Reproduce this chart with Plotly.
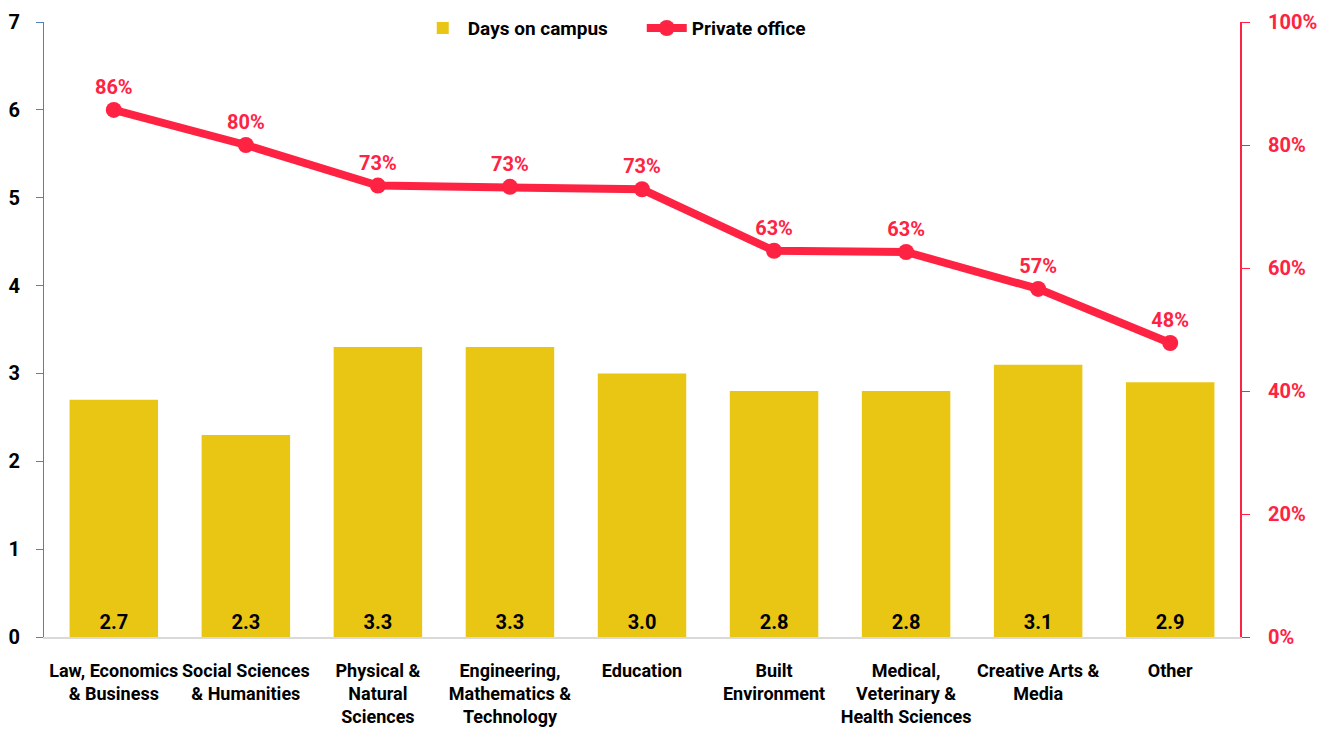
import plotly.graph_objects as go

categories = ["Law, Economics<br>& Business", "Social Sciences<br>& Humanities", "Physical &<br>Natural<br>Sciences",
              "Engineering,<br>Mathematics &<br>Technology", "Education", "Built<br>Environment",
              "Medical,<br>Veterinary &<br>Health Sciences", "Creative Arts &<br>Media", "Other"]
days_on_campus = [2.7, 2.3, 3.3, 3.3, 3.0, 2.8, 2.8, 3.1, 2.9]
private_office = [0.857, 0.80, 0.734, 0.732, 0.728, 0.628, 0.626, 0.566, 0.478]

FONT = "Roboto, Liberation Sans, sans-serif"
RED = "#FF2343"
GOLD = "#EAC614"

fig = go.Figure()
fig.add_trace(go.Bar(
    x=categories, y=days_on_campus, name="Days on campus",
    marker=dict(color=GOLD, line=dict(width=0)),
    width=0.67,
    text=[f"{v:.1f}" for v in days_on_campus], textposition="inside",
    insidetextanchor="start",
    textfont=dict(family=FONT, size=20, color="black", weight="bold"),
    cliponaxis=False,
))
fig.add_trace(go.Scatter(
    x=categories, y=private_office, name="Private office", yaxis="y2",
    mode="lines+markers+text",
    line=dict(color=RED, width=8),
    marker=dict(color=RED, size=16),
    text=[f"{round(v*100):.0f}%" for v in private_office], textposition="top center",
    textfont=dict(family=FONT, size=20, color=RED, weight="bold"),
    cliponaxis=False,
))

fig.update_layout(
    width=1320, height=739,
    margin=dict(l=36, r=88, t=14, b=110, autoexpand=False),
    plot_bgcolor="white", paper_bgcolor="white",
    font=dict(family=FONT, size=18, color="black", weight="bold"),
    showlegend=True,
    legend=dict(orientation="h", x=0.3125, xanchor="left", y=0.99, yanchor="middle",
                font=dict(family=FONT, size=19, color="black", weight="bold"),
                bgcolor="rgba(0,0,0,0)", itemwidth=40, entrywidth=169),
    xaxis=dict(showgrid=False, showline=True, linecolor="#D9D9D9", linewidth=2,
               ticks="", tickangle=0, automargin=False, ticklabelstandoff=16,
               tickfont=dict(family=FONT, size=18, color="black", weight="bold")),
    yaxis=dict(range=[0, 7], dtick=1, showgrid=False, zeroline=False, automargin=False,
               showline=True, linecolor="#4F81BD", linewidth=1, ticks="outside",
               tickcolor="#4F81BD", ticklen=7, ticklabelstandoff=12,
               tickfont=dict(family=FONT, size=20, color="black", weight="bold")),
    yaxis2=dict(range=[0, 1], dtick=0.2, tickformat=".0%", overlaying="y", side="right",
                showgrid=False, zeroline=False, showline=True, linecolor=RED, linewidth=2,
                ticks="outside", tickcolor=RED, ticklen=8, automargin=False, ticklabelstandoff=14,
                tickfont=dict(family=FONT, size=20, color=RED, weight="bold")),
)

fig.write_html("out.html")
